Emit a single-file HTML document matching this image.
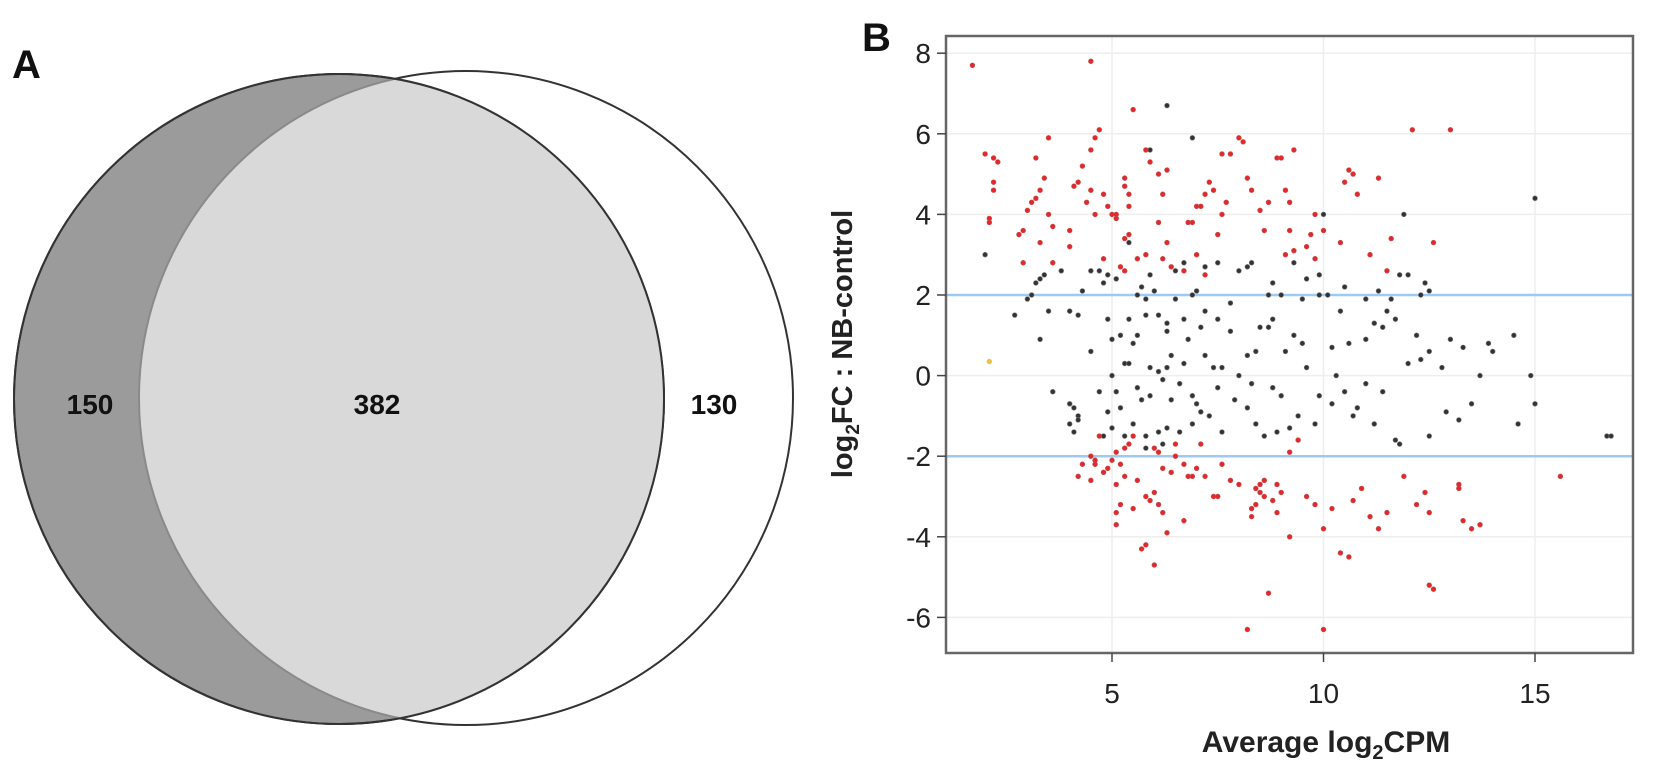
<!DOCTYPE html>
<html><head><meta charset="utf-8"><style>
body{margin:0;background:#fff;}
svg{display:block;font-family:"Liberation Sans",Arial,sans-serif;}
</style></head><body>
<svg id="fig" width="1654" height="776" viewBox="0 0 1654 776">
<defs>
<clipPath id="cl"><circle cx="339" cy="399" r="325"/></clipPath>
<clipPath id="outside"><path d="M0 0H950V776H0Z M14 399a325 325 0 1 0 650 0a325 325 0 1 0 -650 0Z" clip-rule="evenodd"/></clipPath>
</defs>
<g>
<circle cx="339" cy="399" r="325" fill="#9b9b9b" stroke="#333" stroke-width="2"/>
<circle cx="466" cy="398" r="327" fill="#d9d9d9" clip-path="url(#cl)" stroke="#8a8a8a" stroke-width="2"/>
<circle cx="466" cy="398" r="327" fill="none" stroke="#333" stroke-width="2" clip-path="url(#outside)"/>
<circle cx="339" cy="399" r="325" fill="none" stroke="#333" stroke-width="2"/>
<text x="90" y="414" font-size="28" font-weight="bold" text-anchor="middle" fill="#111">150</text>
<text x="377" y="414" font-size="28" font-weight="bold" text-anchor="middle" fill="#111">382</text>
<text x="714" y="414" font-size="28" font-weight="bold" text-anchor="middle" fill="#111">130</text>
<text x="12" y="78" font-size="40" font-weight="bold" fill="#111">A</text>
</g>
<text x="862" y="51" font-size="40" font-weight="bold" fill="#111">B</text>
<g id="plot"></g>
<text x="1326" y="752" font-size="30" font-weight="bold" text-anchor="middle" fill="#222">Average log<tspan font-size="20" dy="7">2</tspan><tspan dy="-7">CPM</tspan></text>
<text transform="translate(852,344) rotate(-90)" font-size="29" font-weight="bold" text-anchor="middle" fill="#222">log<tspan font-size="19" dy="7">2</tspan><tspan dy="-7">FC : NB-control</tspan></text>
</svg>
<script>
const xTicks=[5,10,15];
const yTicks=[-6,-4,-2,0,2,4,6,8];
const thresholds=[-2,2];
const redX=[1.7,2.0,2.2,2.3,2.2,2.2,2.1,2.1,2.8,2.9,3.0,3.1,3.2,3.3,3.4,3.2,3.5,3.3,2.9,3.6,3.5,3.6,4.0,4.1,4.2,4.0,4.3,4.5,4.6,4.7,4.5,4.4,4.6,4.8,4.9,5.0,5.1,5.1,5.3,5.3,5.4,5.4,5.3,5.4,4.8,5.2,5.3,5.6,5.8,5.8,5.9,6.1,6.3,6.1,6.2,6.3,6.4,6.2,5.5,4.5,6.7,6.8,6.9,7.0,7.1,7.2,7.3,7.4,7.5,7.7,7.6,7.0,7.2,7.6,7.8,8.0,8.1,8.2,8.3,8.5,8.6,8.9,9.0,9.1,9.2,9.3,9.6,9.7,10.0,10.4,10.6,10.7,10.8,11.3,11.1,11.5,11.6,12.1,13.0,12.6,9.3,9.2,9.8,9.1,9.8,8.7,10.5,
4.2,4.3,4.5,4.6,4.6,4.8,4.9,5.0,5.2,5.3,5.4,5.5,5.1,4.5,4.7,5.1,5.3,5.6,5.2,5.5,5.8,5.9,6.0,6.1,6.2,5.1,5.1,5.7,5.8,6.0,6.3,6.7,6.8,6.9,6.5,7.0,6.7,6.4,6.2,6.0,6.1,6.5,7.1,7.4,7.5,7.2,7.8,8.0,8.3,8.4,8.5,8.6,8.4,8.5,8.6,8.3,8.9,8.8,8.9,9.0,9.2,8.7,8.2,9.6,9.8,10.0,10.0,10.2,10.4,10.6,10.7,10.9,11.1,11.3,11.5,11.9,12.2,12.4,12.5,12.5,12.6,13.2,13.3,13.5,13.7,15.6,13.2,7.6,9.2,9.4];
const redY=[7.7,5.5,5.4,5.3,4.8,4.6,3.9,3.8,3.5,3.6,4.1,4.3,4.4,4.6,4.9,5.4,5.9,3.3,2.8,2.8,4.0,3.7,3.2,4.7,4.8,3.6,5.2,5.6,5.9,6.1,4.6,4.3,4.0,4.5,4.2,4.0,3.9,4.0,4.7,4.9,4.5,4.2,3.4,3.5,2.9,2.7,2.6,2.9,3.0,5.6,5.3,5.0,5.1,3.8,4.5,3.3,2.7,2.9,6.6,7.8,2.6,3.8,3.8,4.2,4.2,4.5,4.8,4.6,3.5,4.3,4.0,3.0,2.5,5.5,5.5,5.9,5.8,4.9,4.6,4.1,3.6,5.4,5.4,4.6,3.6,3.1,3.2,3.5,3.6,3.3,5.1,5.0,4.5,4.9,3.0,2.6,3.4,6.1,6.1,3.3,5.6,4.3,4.0,3.0,2.9,4.3,4.8,
-2.5,-2.2,-2.0,-2.1,-2.2,-2.4,-2.3,-2.1,-2.2,-1.8,-1.7,-1.5,-1.9,-2.6,-1.5,-2.7,-2.5,-2.6,-3.2,-3.3,-3.0,-3.1,-2.9,-3.2,-3.4,-3.7,-3.4,-4.3,-4.2,-4.7,-3.9,-3.6,-2.5,-2.5,-2.0,-2.3,-2.2,-2.4,-2.3,-1.8,-1.9,-1.7,-1.7,-3.0,-3.0,-2.5,-2.6,-2.7,-3.3,-3.2,-2.9,-3.0,-2.8,-2.7,-2.6,-3.5,-2.7,-3.1,-3.4,-2.9,-4.0,-5.4,-6.3,-3.0,-3.2,-3.8,-6.3,-3.3,-4.4,-4.5,-3.1,-2.8,-3.5,-3.8,-3.4,-2.5,-3.2,-2.9,-3.4,-5.2,-5.3,-2.7,-3.6,-3.8,-3.7,-2.5,-2.8,-2.2,-1.9,-1.6];
const blackX=[2.0,2.7,3.0,3.1,3.2,3.3,3.4,3.3,3.5,3.6,3.8,4.0,4.2,4.3,4.5,4.8,4.9,5.1,5.4,5.7,5.9,6.0,6.5,7.0,7.5,4.9,5.5,5.8,6.1,6.3,6.7,6.3,6.8,7.2,7.5,7.8,4.0,4.1,4.2,4.0,4.1,4.2,4.7,4.5,5.2,5.0,4.8,5.7,5.9,5.6,6.2,6.1,6.3,6.4,5.3,5.4,5.0,5.2,5.6,6.6,6.9,7.0,5.5,5.8,6.1,6.3,6.6,7.1,7.4,7.6,8.2,8.4,8.5,8.8,9.0,8.8,8.2,8.0,8.7,9.5,9.9,10.1,9.6,9.9,10.5,11.3,11.5,11.7,11.6,12.0,12.3,12.4,12.5,10.0,11.9,15.0,8.7,9.3,9.5,10.2,10.6,11.0,11.4,12.2,12.5,13.0,13.3,13.9,14.0,14.5,7.5,7.9,8.2,8.4,8.6,8.9,9.2,9.4,9.8,10.2,10.5,10.8,11.2,11.7,11.8,12.5,13.2,13.5,14.6,15.0,14.9,16.7,16.8,12.0,12.3,11.0,9.0,8.0,7.8,6.9,6.5,5.8,5.4,12.8,13.7,10.3,9.6,7.2,8.3,9.9,7.6,10.7,11.4,12.9,7.2,6.7,11.8,8.3,9.3,5.6,4.7,6.9,6.3,5.9,7.1,6.7,5.9,6.4,6.9,5.1,5.0,4.9,5.3,5.8,6.2,7.3,8.8,9.1,10.4,11.0,11.2];
const blackY=[3.0,1.5,1.9,2.0,2.3,2.4,2.5,0.9,1.6,-0.4,2.6,1.6,1.5,2.1,2.6,2.3,2.5,2.4,3.3,2.2,2.5,2.1,2.6,2.1,2.8,1.4,0.8,1.5,1.5,1.3,1.4,1.1,0.9,1.6,1.4,1.1,-0.7,-0.8,-1.0,-1.2,-1.4,-1.1,-0.4,0.6,-0.8,-1.3,-1.5,-0.6,-0.5,-0.3,-0.1,0.1,0.2,0.5,0.3,0.3,0.9,1.0,1.0,-0.2,-0.5,-0.7,-1.2,-1.5,-1.4,-1.3,-1.4,-0.9,0.2,0.2,0.5,0.6,1.2,1.4,2.0,2.3,2.7,2.6,2.0,1.9,2.0,2.0,2.4,2.5,2.2,2.1,1.6,1.4,1.9,2.5,2.0,2.3,2.1,4.0,4.0,4.4,1.2,1.0,0.8,0.7,0.8,0.9,1.2,1.0,0.6,0.9,0.7,0.8,0.6,1.0,-0.3,-0.6,-0.8,-1.2,-1.5,-1.4,-1.3,-1.0,-1.2,-0.7,-0.4,-0.8,-1.2,-1.6,-1.7,-1.5,-1.1,-0.7,-1.2,-0.7,0.0,-1.5,-1.5,0.3,0.4,-0.2,-0.5,0.0,1.8,2.0,1.9,1.9,1.4,0.2,0.0,0.0,0.2,0.5,-0.2,-0.5,-1.4,-1.0,-0.4,-0.9,2.7,2.8,2.5,2.8,2.8,2.0,2.6,5.9,6.7,5.6,1.2,0.3,0.2,-0.6,-1.2,-0.4,0.0,-0.9,-1.5,-1.8,-1.7,-1.0,-0.3,0.6,1.6,1.9,1.3];
const yellowX=[2.1];
const yellowY=[0.35];

const NS='http://www.w3.org/2000/svg';
const L=946,R=1633,T=36,B=653;
const sx=v=>900.5+v*42.3;
const sy=v=>375.6-v*40.3;
const g=document.getElementById('plot');
function mk(tag,attrs){const e=document.createElementNS(NS,tag);for(const k in attrs)e.setAttribute(k,attrs[k]);g.appendChild(e);return e;}
xTicks.forEach(v=>{const l=mk('line',{x1:sx(v),x2:sx(v),y1:T,y2:B,stroke:'#eeeeee','stroke-width':1.5});

});
yTicks.forEach(v=>{const l=mk('line',{x1:L,x2:R,y1:sy(v),y2:sy(v),stroke:'#eeeeee','stroke-width':1.5});

});
thresholds.forEach(v=>{const l=mk('line',{x1:L,x2:R,y1:sy(v),y2:sy(v),stroke:'#9ccaf0','stroke-width':2.5});

});
function pts(xs,ys,fill,stroke,name){xs.forEach((x,i)=>{const c=mk('circle',{cx:sx(x),cy:sy(ys[i]),r:2.4,fill:fill,stroke:stroke,'stroke-width':0.6});

});}
pts(blackX,blackY,'#333','#777','gene-point-ns');
pts(redX,redY,'#e8262a','#b55','gene-point-de');
pts(yellowX,yellowY,'#f5c040','#f5c040','gene-point-highlight');
const fr=mk('rect',{x:L,y:T,width:R-L,height:B-T,fill:'none',stroke:'#666','stroke-width':2.5});


xTicks.forEach(v=>{mk('line',{x1:sx(v),x2:sx(v),y1:B,y2:B+9,stroke:'#444','stroke-width':1.5});
const t=mk('text',{x:sx(v),y:703,'font-size':28,'text-anchor':'middle',fill:'#222'});t.textContent=v;

});
yTicks.forEach(v=>{mk('line',{x1:L-9,x2:L,y1:sy(v),y2:sy(v),stroke:'#444','stroke-width':1.5});
const t=mk('text',{x:L-15,y:sy(v)+10,'font-size':28,'text-anchor':'end',fill:'#222'});t.textContent=v;

});
</script>
</body></html>
